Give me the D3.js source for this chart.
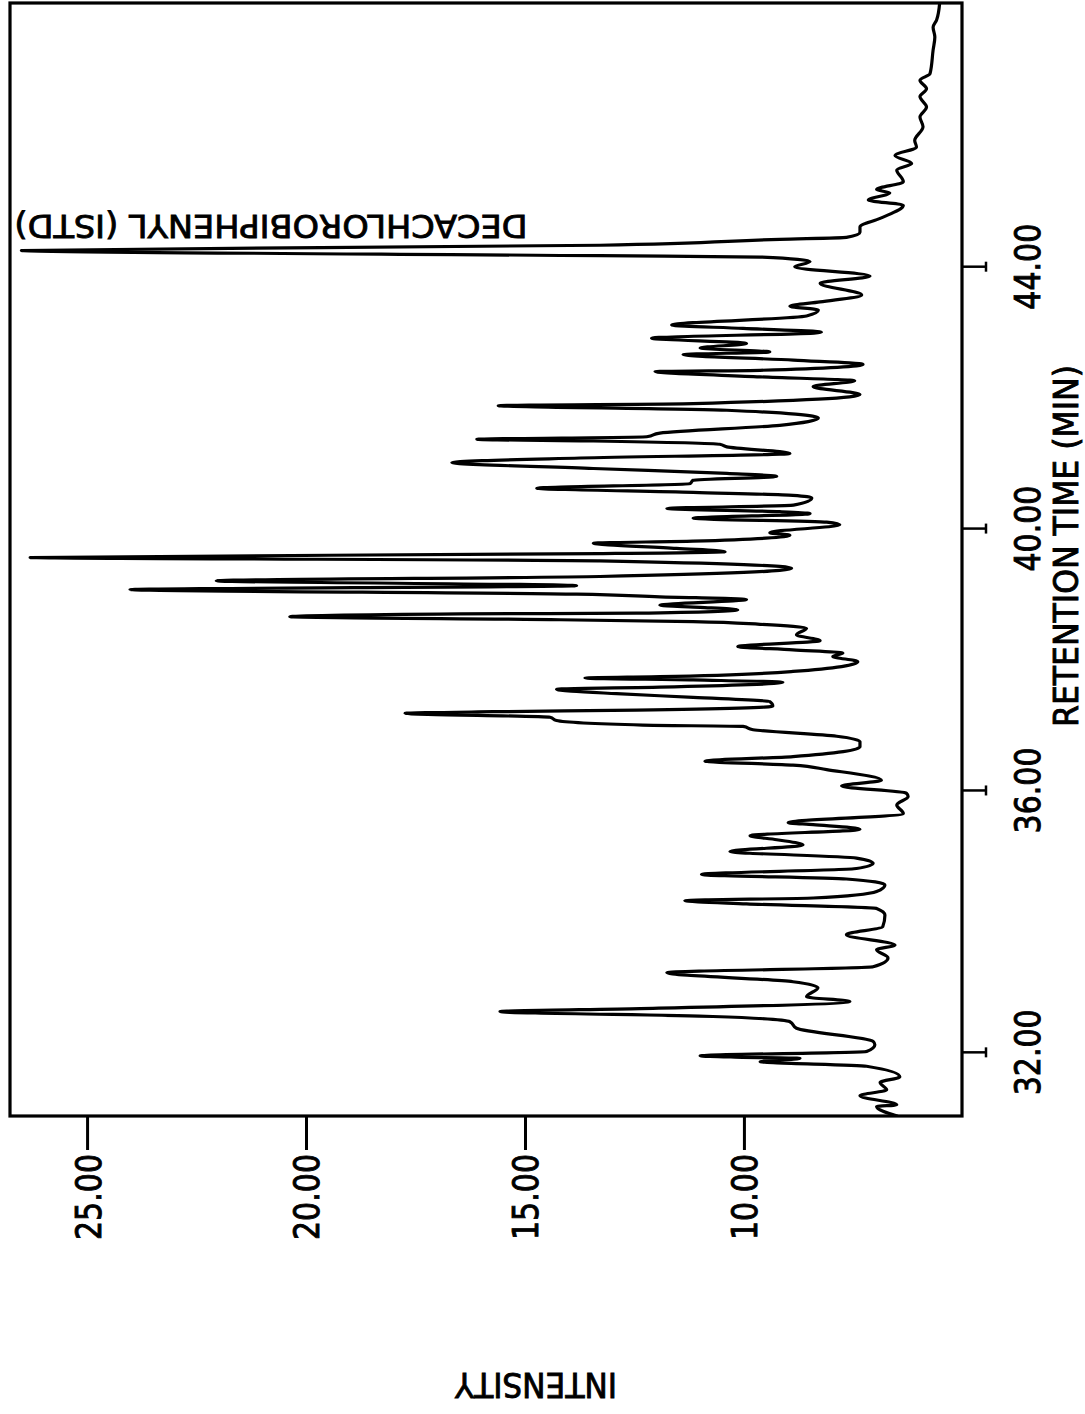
<!DOCTYPE html>
<html>
<head>
<meta charset="utf-8">
<script src="https://cdn.jsdelivr.net/npm/d3@7"></script>
<style>
  body { margin: 0; background: #fff; }
  text { font-family: "DejaVu Sans", "Liberation Sans", sans-serif; fill: #000; stroke: #000; stroke-width: 0.9; }
</style>
</head>
<body>
<svg id="chart" width="1085" height="1414"></svg>
<script>
// retention time (min) and intensity
const retentionTime = [
  31.02, 31.165, 31.19, 31.33, 31.42, 31.53, 31.62, 31.78, 31.85, 31.90, 31.92, 31.94,
  32.005, 32.11, 32.16, 32.36, 32.46, 32.54, 32.615, 32.66, 32.77, 32.84, 32.98, 33.07,
  33.21, 33.30, 33.435, 33.56, 33.63, 33.79, 33.91, 34.09, 34.19, 34.26, 34.31, 34.35,
  34.45, 34.55, 34.64, 34.71, 34.80, 34.88, 34.96, 35.06, 35.16, 35.24, 35.30, 35.40,
  35.47, 35.50, 35.64, 35.77, 35.90, 35.95, 36.06, 36.15, 36.31, 36.38, 36.44, 36.51,
  36.66, 36.74, 36.82, 36.92, 36.97, 36.99, 37.06, 37.11, 37.17, 37.195, 37.22, 37.28,
  37.35, 37.415, 37.47, 37.54, 37.57, 37.645, 37.68, 37.71, 37.73, 37.81, 37.96, 38.04,
  38.09, 38.14, 38.19, 38.28, 38.37, 38.47, 38.53, 38.57, 38.60, 38.645, 38.69, 38.70,
  38.75, 38.79, 38.82, 38.91, 38.95, 38.99, 39.06, 39.12, 39.195, 39.26, 39.385, 39.50,
  39.55, 39.61, 39.64, 39.69, 39.77, 39.80, 39.89, 39.93, 40.05, 40.09, 40.15, 40.22,
  40.25, 40.30, 40.35, 40.46, 40.50, 40.545, 40.61, 40.68, 40.73, 40.79, 40.835, 40.91,
  41.00, 41.07, 41.14, 41.24, 41.28, 41.33, 41.355, 41.395, 41.45, 41.57, 41.68, 41.80,
  41.87, 41.90, 42.04, 42.16, 42.25, 42.31, 42.39, 42.41, 42.50, 42.565, 42.65, 42.69,
  42.75, 42.82, 42.90, 42.99, 43.05, 43.10, 43.24, 43.33, 43.39, 43.455, 43.56, 43.74,
  43.85, 43.99, 44.07, 44.14, 44.16, 44.24, 44.32, 44.41, 44.44, 44.52, 44.60, 44.73,
  44.93, 45.01, 45.12, 45.17, 45.29, 45.47, 45.57, 45.69, 45.82, 45.92, 46.13, 46.28,
  46.43, 46.59, 46.71, 46.84, 46.94, 47.30, 47.50, 47.65, 47.76, 48.02
];
const intensity = [
  6.50, 6.97, 6.51, 7.35, 6.74, 6.89, 6.44, 7.20, 9.63, 8.72, 10.20, 11.00,
  7.20, 7.01, 7.05, 8.80, 8.95, 10.71, 15.57, 12.37, 7.58, 8.57, 8.31, 8.88,
  11.76, 7.05, 6.71, 6.97, 6.55, 7.66, 6.83, 6.78, 6.97, 9.94, 11.35, 8.42,
  6.97, 6.78, 7.66, 10.97, 7.43, 7.05, 7.43, 10.32, 8.65, 9.25, 9.86, 7.35,
  8.42, 8.99, 6.36, 6.51, 6.25, 6.29, 7.77, 6.86, 8.11, 8.88, 10.89, 8.88,
  7.35, 7.35, 7.88, 9.79, 10.02, 12.31, 14.28, 14.43, 17.74, 15.73, 12.45, 9.34,
  9.41, 11.16, 12.91, 14.28, 11.92, 9.11, 11.16, 13.63, 11.92, 8.88, 7.40, 7.97,
  7.74, 8.88, 10.14, 8.26, 8.80, 8.57, 9.63, 11.16, 14.20, 20.37, 16.48, 12.45,
  10.14, 11.00, 11.92, 9.94, 11.92, 13.82, 24.02, 13.82, 22.05, 13.29, 8.91, 13.29,
  26.30, 13.29, 10.43, 11.54, 13.44, 11.16, 8.95, 9.41, 7.81, 8.11, 11.16, 8.49,
  9.18, 11.76, 8.87, 8.45, 8.88, 11.16, 14.73, 11.23, 11.16, 9.25, 10.39, 13.44,
  16.67, 13.74, 8.95, 10.39, 10.55, 13.44, 16.10, 12.22, 11.92, 9.18, 8.30, 10.39,
  15.61, 11.16, 7.35, 8.42, 7.47, 9.63, 12.03, 9.63, 7.28, 8.87, 11.39, 9.41,
  11.00, 9.94, 12.11, 8.23, 10.02, 11.65, 8.57, 8.30, 8.95, 8.26, 7.31, 8.26,
  7.12, 8.84, 8.49, 9.63, 13.29, 26.50, 13.29, 9.18, 7.66, 7.35, 7.35, 6.89,
  6.36, 7.16, 6.67, 6.97, 6.36, 6.51, 6.17, 6.55, 6.06, 6.10, 5.91, 5.98,
  5.83, 5.98, 5.83, 5.98, 5.75, 5.68, 5.64, 5.68, 5.60, 5.53
];
const timeTicks = [32, 36, 40, 44];
const intensityTicks = [10, 15, 20, 25];
const peakLabel = "DECACHLOROBIPHENYL (ISTD)";
const timeTitle = "RETENTION TIME (MIN)";
const intensityTitle = "INTENSITY";

const svg = d3.select("#chart");
svg.append("rect").attr("width", 1085).attr("height", 1414).attr("fill", "#fff");

// plot is printed turned on its side: time runs up, intensity runs left
const frame = { left: 10, right: 962, top: 3, bottom: 1116 };

const y = d3.scaleLinear().domain([31.02, 48.02]).range([frame.bottom, frame.top]);
const x = d3.scaleLinear().domain([5.02, 26.76]).range([frame.right, frame.left]);

const trace = retentionTime.map((t, i) => ({ t: t, v: intensity[i] }));

svg.append("clipPath").attr("id", "plot-clip")
  .append("rect")
  .attr("x", frame.left).attr("y", frame.top)
  .attr("width", frame.right - frame.left).attr("height", frame.bottom - frame.top);

const line = d3.line()
  .x(d => x(d.v))
  .y(d => y(d.t))
  .curve(d3.curveMonotoneY);

svg.append("path")
  .datum(trace)
  .attr("clip-path", "url(#plot-clip)")
  .attr("d", line)
  .attr("fill", "none")
  .attr("stroke", "#000")
  .attr("stroke-width", 3.2)
  .attr("stroke-linejoin", "round")
  .attr("stroke-linecap", "round");

// frame
svg.append("rect")
  .attr("x", frame.left).attr("y", frame.top)
  .attr("width", frame.right - frame.left).attr("height", frame.bottom - frame.top)
  .attr("fill", "none").attr("stroke", "#000").attr("stroke-width", 3.2);

// intensity axis (along the bottom)
const xAxis = svg.append("g")
  .attr("transform", `translate(0,${frame.bottom})`)
  .call(d3.axisBottom(x).tickValues(intensityTicks).tickSize(34).tickFormat(d3.format(".2f")));
xAxis.select(".domain").remove();
xAxis.selectAll(".tick line").attr("stroke", "#000").attr("stroke-width", 3);
xAxis.selectAll(".tick text")
  .attr("transform", "rotate(-90)")
  .attr("x", -38).attr("y", 0).attr("dy", "0.36em")
  .attr("text-anchor", "end")
  .attr("font-size", 36)
  .attr("textLength", 86).attr("lengthAdjust", "spacingAndGlyphs");

// retention time axis (along the right side)
const yAxis = svg.append("g")
  .attr("transform", `translate(${frame.right},0)`)
  .call(d3.axisRight(y).tickValues(timeTicks).tickSize(24).tickFormat(d3.format(".2f")));
yAxis.select(".domain").remove();
yAxis.selectAll(".tick line").attr("stroke", "#000").attr("stroke-width", 2.5);
yAxis.selectAll(".tick").append("line")
  .attr("x1", 24).attr("x2", 24).attr("y1", -5).attr("y2", 5)
  .attr("stroke", "#000").attr("stroke-width", 2.5);
yAxis.selectAll(".tick text")
  .attr("transform", "translate(78,0) rotate(-90)")
  .attr("x", 0).attr("y", 0).attr("dy", 0)
  .attr("text-anchor", "middle")
  .attr("font-size", 36)
  .attr("textLength", 86).attr("lengthAdjust", "spacingAndGlyphs");

// titles
svg.append("text")
  .attr("transform", "translate(1078,546) rotate(-90)")
  .attr("text-anchor", "middle")
  .attr("font-size", 33)
  .attr("textLength", 362).attr("lengthAdjust", "spacingAndGlyphs")
  .text(timeTitle);

svg.append("text")
  .attr("transform", "translate(536,1385) rotate(180)")
  .attr("text-anchor", "middle").attr("dy", "0.36em")
  .attr("font-size", 33)
  .attr("textLength", 162).attr("lengthAdjust", "spacingAndGlyphs")
  .text(intensityTitle);

// internal standard peak label, printed upside down over its peak
svg.append("text")
  .attr("transform", "translate(271,227) rotate(180)")
  .attr("text-anchor", "middle").attr("dy", "0.36em")
  .attr("font-size", 32)
  .attr("textLength", 513).attr("lengthAdjust", "spacingAndGlyphs")
  .text(peakLabel);
</script>
</body>
</html>
